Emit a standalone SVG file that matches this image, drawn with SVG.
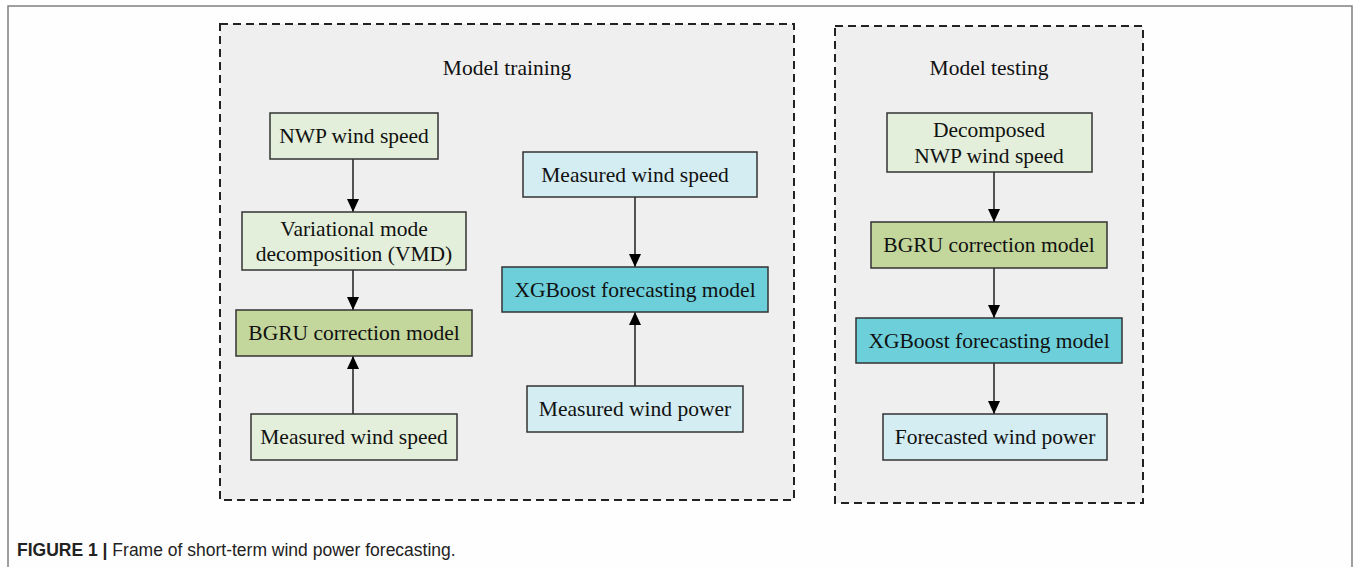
<svg xmlns="http://www.w3.org/2000/svg" width="1354" height="567" viewBox="0 0 1354 567">
<style>
.frame{fill:#fefefe;stroke:#808080;stroke-width:1.5}
.panel{fill:#efefef;stroke:#222;stroke-width:2;stroke-dasharray:8,5}
.n rect{stroke:#333;stroke-width:1.5}
.g1{fill:#e3efda}
.g2{fill:#c3d79c}
.b1{fill:#d4edf2}
.b2{fill:#6ccfda}
text{font-family:"Liberation Serif","Times New Roman",serif;font-size:21.5px;fill:#111;text-anchor:middle}
.cap{font-family:"Liberation Sans",Arial,sans-serif;font-size:17.5px;text-anchor:start;fill:#222}
.conn line{stroke:#111;stroke-width:1.4}
</style>
<defs>
<marker id="ah" markerWidth="13" markerHeight="12" refX="13" refY="6" orient="auto" markerUnits="userSpaceOnUse" viewBox="0 0 13 12">
<path d="M0,0 L13,6 L0,12 Z" fill="#000"/>
</marker>
</defs>
<path class="frame" d="M8,570 L8,6 L1352,6 L1352,570"/>
<rect class="panel" x="220" y="24" width="574" height="476"/>
<rect class="panel" x="835" y="26" width="308" height="477"/>
<text x="507" y="75">Model training</text>
<text x="989" y="75">Model testing</text>
<g class="conn">
<line x1="353" y1="159" x2="353" y2="212" marker-end="url(#ah)"/>
<line x1="353" y1="270" x2="353" y2="310" marker-end="url(#ah)"/>
<line x1="353" y1="414" x2="353" y2="356" marker-end="url(#ah)"/>
<line x1="635" y1="197" x2="635" y2="267" marker-end="url(#ah)"/>
<line x1="635" y1="386" x2="635" y2="312" marker-end="url(#ah)"/>
<line x1="994" y1="172" x2="994" y2="222" marker-end="url(#ah)"/>
<line x1="994" y1="268" x2="994" y2="318" marker-end="url(#ah)"/>
<line x1="994" y1="363" x2="994" y2="414" marker-end="url(#ah)"/>
</g>
<g id="n-nwp" class="n"><rect class="g1" x="270" y="113" width="168" height="46"/><text x="354" y="143">NWP wind speed</text></g>
<g id="n-vmd" class="n"><rect class="g1" x="242" y="212" width="224" height="58"/><text x="354" y="236">Variational mode</text><text x="354" y="261">decomposition (VMD)</text></g>
<g id="n-bgru1" class="n"><rect class="g2" x="236" y="310" width="236" height="46"/><text x="354" y="340">BGRU correction model</text></g>
<g id="n-mws1" class="n"><rect class="g1" x="251" y="414" width="206" height="46"/><text x="354" y="444">Measured wind speed</text></g>
<g id="n-mws2" class="n"><rect class="b1" x="523" y="152" width="234" height="45"/><text x="635" y="182">Measured wind speed</text></g>
<g id="n-xgb1" class="n"><rect class="b2" x="502" y="267" width="266" height="45"/><text x="635" y="297">XGBoost forecasting model</text></g>
<g id="n-mwp" class="n"><rect class="b1" x="527" y="386" width="216" height="46"/><text x="635" y="416">Measured wind power</text></g>
<g id="n-dec" class="n"><rect class="g1" x="887" y="113" width="205" height="59"/><text x="989" y="137">Decomposed</text><text x="989" y="163">NWP wind speed</text></g>
<g id="n-bgru2" class="n"><rect class="g2" x="871" y="222" width="236" height="46"/><text x="989" y="252">BGRU correction model</text></g>
<g id="n-xgb2" class="n"><rect class="b2" x="856" y="318" width="266" height="45"/><text x="989" y="348">XGBoost forecasting model</text></g>
<g id="n-fwp" class="n"><rect class="b1" x="883" y="414" width="224" height="46"/><text x="995" y="444">Forecasted wind power</text></g>
<text class="cap" x="17" y="556"><tspan font-weight="bold">FIGURE 1</tspan> <tspan font-weight="bold">|</tspan> Frame of short-term wind power forecasting.</text>
</svg>
